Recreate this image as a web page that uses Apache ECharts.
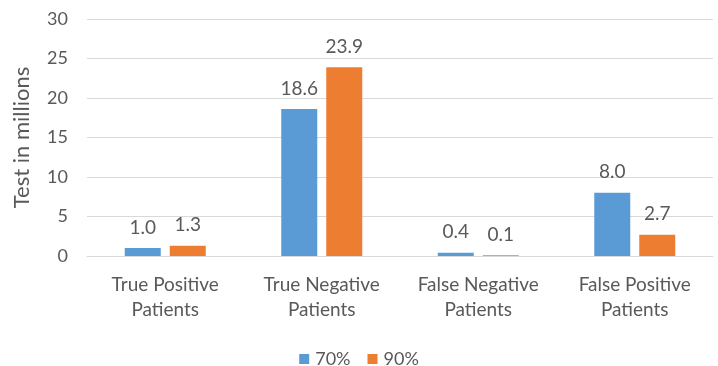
<!DOCTYPE html>
<html>
<head>
<meta charset="utf-8">
<script src="https://cdn.jsdelivr.net/npm/echarts@6/dist/echarts.min.js"></script>
<style>
  html, body { margin: 0; padding: 0; background: #ffffff; }
  #chart { width: 718px; height: 366px; }
</style>
</head>
<body>
<div id="chart"></div>
<script>
// Test outcome categories and counts (millions) at two accuracy levels
const categories = ['True Positive\nPatients', 'True Negative\nPatients', 'False Negative\nPatients', 'False Positive\nPatients'];
const seriesNames = ['70%', '90%'];
const values70 = [1.0, 18.6, 0.4, 8.0];
const values90 = [1.3, 23.9, 0.1, 2.7];
const yTicks = { min: 0, max: 30, interval: 5 };

const FONT = 'Lato, "Open Sans", sans-serif';
const TEXT = '#595959';
const colors = ['#5B9BD5', '#ED7D31'];

const chart = echarts.init(document.getElementById('chart'));

function makeSeries(name, data, color) {
  return {
    name: name,
    type: 'bar',
    data: data,
    barWidth: 36,
    barGap: '25%',
    itemStyle: { color: color },
    label: {
      show: true,
      position: 'top',
      distance: 11,
      formatter: p => p.value.toFixed(1),
      color: TEXT,
      fontFamily: FONT,
      fontSize: 19
    }
  };
}

chart.setOption({
  animation: false,
  color: colors,
  grid: { left: 87, right: 5, top: 19, bottom: 110, containLabel: false },
  legend: {
    data: seriesNames,
    top: 345,
    left: 'center',
    itemWidth: 10,
    itemHeight: 10,
    itemGap: 17,
    icon: 'rect',
    textStyle: { color: TEXT, fontFamily: FONT, fontSize: 18, padding: [0, 0, 0, 1] }
  },
  xAxis: {
    type: 'category',
    data: categories,
    axisLine: { lineStyle: { color: '#d9d9d9', width: 1 } },
    axisTick: { show: false },
    axisLabel: {
      color: TEXT,
      fontFamily: FONT,
      fontSize: 19,
      lineHeight: 25,
      margin: 16,
      interval: 0
    }
  },
  yAxis: {
    type: 'value',
    min: yTicks.min,
    max: yTicks.max,
    interval: yTicks.interval,
    name: 'Test in millions',
    nameLocation: 'middle',
    nameGap: 54,
    nameTextStyle: { color: TEXT, fontFamily: FONT, fontSize: 22 },
    axisLine: { show: false },
    axisTick: { show: false },
    axisLabel: { color: TEXT, fontFamily: FONT, fontSize: 18, margin: 19 },
    splitLine: { lineStyle: { color: '#d9d9d9', width: 1 } }
  },
  series: [
    makeSeries(seriesNames[0], values70, colors[0]),
    makeSeries(seriesNames[1], values90, colors[1])
  ]
});
</script>
</body>
</html>
